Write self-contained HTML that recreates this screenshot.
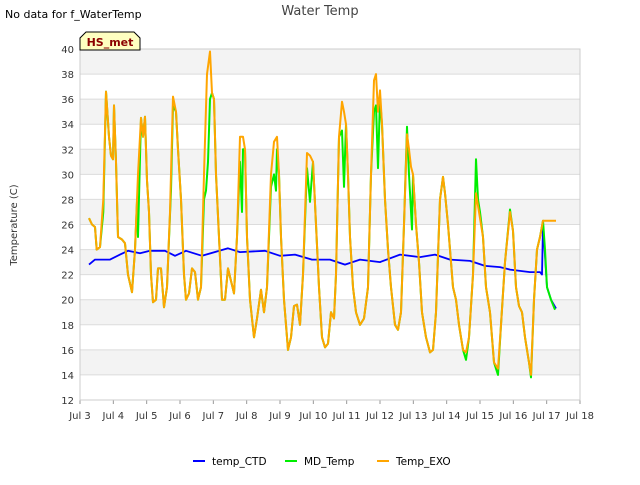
<!DOCTYPE html>
<html><head><meta charset="utf-8"><style>
body{margin:0;background:#fff;font-family:"Liberation Sans","DejaVu Sans",sans-serif}
svg text{font-family:"DejaVu Sans","Liberation Sans",sans-serif}
</style></head><body>
<svg id="c" width="640" height="480">
<rect x="0" y="0" width="640" height="480" fill="#fff"/>
<text x="5" y="18" font-size="11">No data for f_WaterTemp</text>
<text x="320" y="15" font-size="13" text-anchor="middle" fill="#444">Water Temp</text>
<g id="grid"></g>
<g id="axes"></g>
<g id="series"></g>
<text transform="translate(17,225) rotate(-90)" font-size="10" text-anchor="middle" fill="#333">Temperature (C)</text>
<g>
<path d="M80,50 L80,38 L86,32 L134,32 L140,38 L140,50 Z" fill="#ffffc0" stroke="#000" stroke-width="1"/>
<text x="110" y="46" font-size="11" font-weight="bold" fill="#8b0000" text-anchor="middle">HS_met</text>
</g>
<g>
<g><line x1="193" y1="461" x2="205" y2="461" stroke="#0000ff" stroke-width="2"/><text x="212" y="465" font-size="10.5">temp_CTD</text></g>
<g><line x1="285" y1="461" x2="297" y2="461" stroke="#00ee00" stroke-width="2"/><text x="304" y="465" font-size="10.5">MD_Temp</text></g>
<g><line x1="377" y1="461" x2="389" y2="461" stroke="#ffa500" stroke-width="2"/><text x="396" y="465" font-size="10.5">Temp_EXO</text></g>
</g>
</svg>
<script>
const xTicks=["Jul 3","Jul 4","Jul 5","Jul 6","Jul 7","Jul 8","Jul 9","Jul 10","Jul 11","Jul 12","Jul 13","Jul 14","Jul 15","Jul 16","Jul 17","Jul 18"];
const yTicks=[12,14,16,18,20,22,24,26,28,30,32,34,36,38,40];
const exoT=[0.27,0.36,0.45,0.5,0.6,0.7,0.78,0.87,0.93,0.99,1.02,1.08,1.14,1.26,1.35,1.44,1.56,1.65,1.74,1.83,1.89,1.95,2.01,2.07,2.13,2.19,2.28,2.34,2.43,2.52,2.61,2.7,2.79,2.88,2.94,3.03,3.12,3.18,3.27,3.36,3.45,3.54,3.63,3.72,3.81,3.9,3.96,4.02,4.08,4.17,4.26,4.35,4.44,4.53,4.62,4.71,4.8,4.89,4.95,5.01,5.1,5.22,5.31,5.43,5.52,5.61,5.73,5.82,5.91,5.97,6.03,6.12,6.24,6.33,6.42,6.51,6.6,6.69,6.81,6.9,6.99,7.08,7.17,7.26,7.35,7.44,7.53,7.62,7.68,7.77,7.86,7.92,7.98,8.04,8.1,8.19,8.28,8.4,8.52,8.64,8.73,8.82,8.88,8.94,9,9.06,9.15,9.24,9.33,9.45,9.54,9.63,9.72,9.81,9.87,9.93,9.99,10.08,10.17,10.26,10.38,10.5,10.59,10.68,10.8,10.89,10.95,11.04,11.1,11.19,11.28,11.37,11.49,11.58,11.67,11.79,11.88,11.94,12,12.09,12.18,12.3,12.42,12.54,12.63,12.75,12.9,12.99,13.08,13.17,13.26,13.35,13.47,13.53,13.62,13.71,13.8,13.89,14.28];
const exoV=[26.5,26,25.8,24,24.2,28,36.6,33,31.5,31.2,35.5,31,25,24.8,24.5,22,20.6,24,30,34.5,33,34.6,29.5,27,22,19.8,20,22.5,22.5,19.4,21,27,36.2,35,32,28,22,20,20.5,22.5,22.2,20,21,30,38,39.8,36.5,36,30,25,20,20,22.5,21.5,20.5,25,33,33,32,25,20,17,18.5,20.8,19,21,30,32.6,33,30,25,20,16,17,19.5,19.6,18,22,31.7,31.5,31,26,21,17,16.2,16.5,19,18.5,22,33,35.8,35,34,30,25,21,19,18,18.5,21,30,37.5,38,35,36.7,34,28,24,21,18,17.6,19,26,33.2,32,30.6,30,26,23,19,17,15.8,16,19,28,29.8,28.5,26,24,21,20,18,16,15.8,17,22,28.5,27.5,26.5,25,21,19,15,14.5,18,23,27,25.5,21,19.5,19,17,15,14,20,24,25,26.3,26.3];
const mdT=[0.27,0.36,0.45,0.5,0.6,0.7,0.78,0.87,0.93,0.99,1.02,1.08,1.14,1.26,1.35,1.44,1.56,1.65,1.71,1.74,1.83,1.89,1.95,2.01,2.07,2.13,2.19,2.28,2.34,2.43,2.52,2.61,2.73,2.79,2.88,2.94,3.03,3.12,3.18,3.27,3.36,3.45,3.54,3.63,3.72,3.78,3.84,3.9,3.96,4.02,4.08,4.17,4.26,4.35,4.44,4.53,4.62,4.71,4.8,4.86,4.89,4.95,5.01,5.1,5.22,5.31,5.43,5.52,5.61,5.73,5.82,5.88,5.91,5.97,6.03,6.12,6.24,6.33,6.42,6.51,6.6,6.69,6.81,6.9,6.99,7.08,7.17,7.26,7.35,7.44,7.53,7.62,7.68,7.77,7.86,7.92,7.98,8.04,8.1,8.19,8.28,8.4,8.52,8.64,8.73,8.82,8.88,8.94,9,9.06,9.15,9.24,9.33,9.45,9.54,9.63,9.72,9.81,9.87,9.96,9.99,10.08,10.17,10.26,10.38,10.5,10.59,10.68,10.8,10.89,10.95,11.04,11.1,11.19,11.28,11.37,11.49,11.58,11.67,11.79,11.88,11.94,12,12.09,12.18,12.3,12.42,12.54,12.63,12.75,12.9,12.99,13.08,13.17,13.26,13.35,13.47,13.53,13.62,13.71,13.8,13.89,13.95,14.01,14.13,14.25];
const mdV=[26.5,26,25.8,24,24.2,27,36.6,33,31.5,31.2,35.5,31,25,24.8,24.5,22,20.6,24,27.8,25,34.5,33,34.6,29.5,27,22,19.8,20,22.5,22.5,19.4,21,28.7,35.5,35,32,28,22,20,20.5,22.5,22.2,20,21,28,28.7,31,36,36.5,36,30,25,20,20,22.5,21.5,20.5,25,31,27,32,32,25,20,17,18.5,20.8,19,21,29,30,28.7,32,30,25,20,16,17,19.5,19.6,18,22,30.5,27.8,31,26,21,17,16.2,16.5,19,18.5,22,33,33.5,29,34,30,25,21,19,18,18.5,21,30,35,35.5,30.5,36,34,28,24,21,18,17.6,19,26,33.8,30,25.6,30,26,23,19,17,15.8,16,19,28,29.8,28.5,26,24,21,20,18,16,15.2,17,22,31.2,28,27,25,21,19,15,14,18,23,27.2,25.5,21,19.5,19,17,15,13.8,20,24,25,26.3,24,21,20,19.2];
const ctdT=[0.27,0.45,0.9,1.2,1.44,1.8,2.1,2.55,2.85,3.18,3.66,4.44,4.8,5.55,6.0,6.45,6.96,7.5,7.95,8.4,9.0,9.6,10.2,10.65,11.1,11.7,12.15,12.6,12.9,13.5,13.8,13.86,13.89,14.01,14.13,14.28];
const ctdV=[22.8,23.2,23.2,23.6,23.9,23.7,23.9,23.9,23.5,23.9,23.5,24.1,23.8,23.9,23.5,23.6,23.2,23.2,22.8,23.2,23.0,23.6,23.4,23.6,23.2,23.1,22.7,22.6,22.4,22.2,22.2,22.0,26,21,20,19.3];
const L=80,R=580,T=49,B=400,NS="http://www.w3.org/2000/svg";
const xs=d=>L+(R-L)*d/15, ys=v=>B-(B-T)*(v-12)/28;
const grid=document.getElementById('grid'),axes=document.getElementById('axes'),ser=document.getElementById('series');
function mk(tag,a,p){const e=document.createElementNS(NS,tag);for(const k in a)e.setAttribute(k,a[k]);p.appendChild(e);return e;}
for(let i=0;i<yTicks.length-1;i++){
  if(i%2==1){const r=mk('rect',{x:L,y:ys(yTicks[i+1]),width:R-L,height:ys(yTicks[i])-ys(yTicks[i+1]),fill:'#f3f3f3'},grid);
  
  }
}
yTicks.forEach(v=>{const y=ys(v);
  const g=mk('line',{x1:L,x2:R,y1:y,y2:y,stroke:'#dcdcdc','stroke-width':1},grid);
  
  
  const t=mk('text',{x:L-6,y:y+4,'font-size':10,'text-anchor':'end',fill:'#333'},axes);t.textContent=v;
  
  
});
xTicks.forEach((s,i)=>{const x=xs(i);
  const t=mk('text',{x:x,y:B+19,'font-size':10,'text-anchor':'middle',fill:'#333'},axes);t.textContent=s;
  
  
  mk('line',{x1:x,x2:x,y1:B,y2:B+4,stroke:'#999'},axes);
});
mk('rect',{x:L,y:T,width:R-L,height:B-T,fill:'none',stroke:'#ccc'},axes);
function line(t,v,c,name,w){const p=mk('polyline',{points:t.map((d,i)=>xs(d).toFixed(1)+','+ys(v[i]).toFixed(1)).join(' '),fill:'none',stroke:c,'stroke-width':w,'stroke-linejoin':'round'},ser);
  
  }
line(ctdT,ctdV,'#0000ff','temp-ctd-line',1.8);
line(mdT,mdV,'#00ee00','md-temp-line',2);
line(exoT,exoV,'#ffa500','temp-exo-line',2);
</script>
</body></html>
